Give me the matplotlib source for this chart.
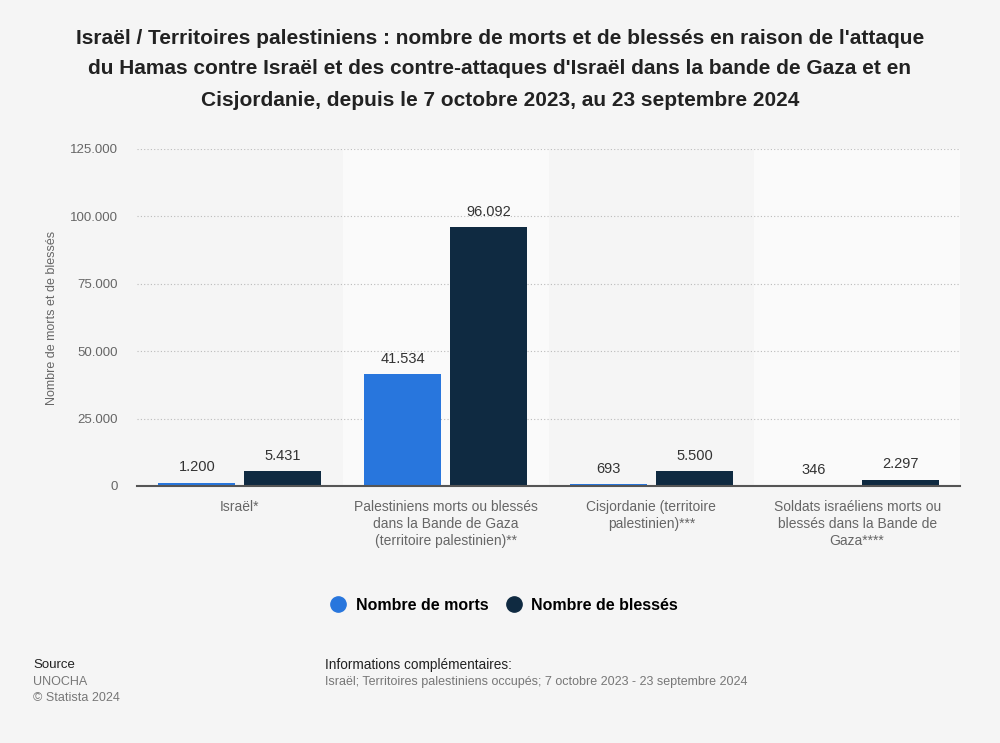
import numpy as np
import matplotlib.pyplot as plt

plt.rcParams['font.family'] = ['Liberation Sans', 'DejaVu Sans']

categories = ['Israël*',
              'Palestiniens morts ou blessés\ndans la Bande de Gaza\n(territoire palestinien)**',
              'Cisjordanie (territoire\npalestinien)***',
              'Soldats israéliens morts ou\nblessés dans la Bande de\nGaza****']
morts = [1200, 41534, 693, 346]
blesses = [5431, 96092, 5500, 2297]
yticks = [0, 25000, 50000, 75000, 100000, 125000]

c_morts = '#2876dd'
c_bless = '#0f2a41'
bg = '#f5f5f5'

fig = plt.figure(figsize=(10, 7.43), dpi=100, facecolor=bg)
ax = fig.add_axes([0.137, 1 - 486 / 743, 0.823, (486 - 149) / 743])
ax.set_facecolor(bg)

x = np.arange(len(categories))
w = 0.374
off = 0.209

for i in x:
    if i % 2 == 1:
        ax.axvspan(i - 0.5, i + 0.5, color='#fafafa', zorder=0, lw=0)

b1 = ax.bar(x - off, morts, w, color=c_morts, zorder=3)
b2 = ax.bar(x + off, blesses, w, color=c_bless, zorder=3)

def fmt(v):
    return f'{v:,}'.replace(',', '.')

for bars, vals in ((b1, morts), (b2, blesses)):
    for r, v in zip(bars, vals):
        ax.annotate(fmt(v), (r.get_x() + r.get_width() / 2, v), xytext=(0, 6),
                    textcoords='offset points', ha='center', va='bottom',
                    fontsize=10.5, color='#333333')

ax.set_xlim(-0.5, 3.5)
ax.set_ylim(0, 125000)
ax.set_yticks(yticks)
ax.set_yticklabels([fmt(t) for t in yticks])
ax.yaxis.grid(True, linestyle=(0, (1, 2)), color='#bbbbbb', lw=0.8, zorder=1)
ax.set_xticks(x)
ax.set_xticklabels(categories, fontsize=10, color='#666666', linespacing=1.3, va='top')
ax.tick_params(axis='y', length=0, labelsize=9.5, labelcolor='#666666', pad=14)
ax.tick_params(axis='x', length=0, pad=10)
for s in ['top', 'right', 'left']:
    ax.spines[s].set_visible(False)
ax.spines['bottom'].set_color('#555555')
ax.spines['bottom'].set_linewidth(1.5)
ax.spines['bottom'].set_zorder(4)
ax.set_ylabel('Nombre de morts et de blessés', fontsize=9, color='#666666')
ax.yaxis.set_label_coords(-0.096, 0.5)

fig.text(0.5, 1 - 69 / 743,
         "Israël / Territoires palestiniens : nombre de morts et de blessés en raison de l'attaque\n"
         "du Hamas contre Israël et des contre-attaques d'Israël dans la bande de Gaza et en\n"
         "Cisjordanie, depuis le 7 octobre 2023, au 23 septembre 2024",
         ha='center', va='center', fontsize=15, fontweight='bold', color='#222222',
         linespacing=1.8)

h1 = plt.Line2D([], [], marker='o', ls='', color=c_morts, markersize=11)
h2 = plt.Line2D([], [], marker='o', ls='', color=c_bless, markersize=11)
fig.legend([h1, h2], ['Nombre de morts', 'Nombre de blessés'], loc='center',
           bbox_to_anchor=(0.5, 1 - 605 / 743), ncol=2, frameon=False,
           prop={'weight': 'bold', 'size': 11.5}, handletextpad=0.1, columnspacing=0.6)

fig.text(0.033, 1 - 665 / 743, 'Source', fontsize=9.5, color='#222222', va='center')
fig.text(0.033, 1 - 682 / 743, 'UNOCHA', fontsize=9, color='#777777', va='center')
fig.text(0.033, 1 - 698 / 743, '© Statista 2024', fontsize=9, color='#777777', va='center')
fig.text(0.325, 1 - 665 / 743, 'Informations complémentaires:', fontsize=9.8, color='#222222', va='center')
fig.text(0.325, 1 - 682 / 743, 'Israël; Territoires palestiniens occupés; 7 octobre 2023 - 23 septembre 2024',
         fontsize=9, color='#777777', va='center')

fig.savefig('out.png', dpi=100, facecolor=bg)
